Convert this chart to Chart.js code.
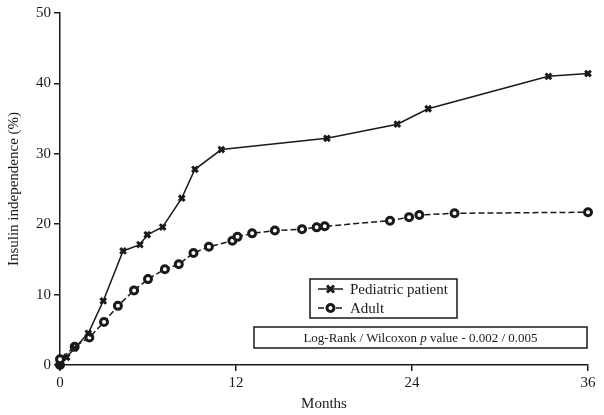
<!DOCTYPE html>
<html>
<head>
<meta charset="utf-8">
<script src="https://cdn.jsdelivr.net/npm/chart.js@4/dist/chart.umd.min.js"></script>
<style>
  html, body { margin: 0; padding: 0; background: #fff; }
  #wrap { width: 604px; height: 415px; }
</style>
</head>
<body>
<div id="wrap"><canvas id="chart" width="604" height="415"></canvas></div>
<script>
// insulin independence curves
const pedMonths = [0, 0.45, 1.0, 1.93, 2.95, 4.3, 5.45, 5.95, 7.0, 8.3, 9.2, 11.0, 18.2, 23.0, 25.1, 33.3, 36];
const pedValues = [0, 1.1, 2.4, 4.5, 9.1, 16.2, 17.1, 18.5, 19.6, 23.7, 27.8, 30.6, 32.2, 34.2, 36.4, 41.0, 41.4];

const adultMonths = [0, 0, 1.0, 2.0, 3.0, 3.95, 5.05, 6.0, 7.15, 8.1, 9.1, 10.15, 11.75, 12.1, 13.1, 14.65, 16.5, 17.5, 18.05, 22.5, 23.8, 24.5, 26.9, 36];
const adultValues = [0, 0.8, 2.6, 3.9, 6.1, 8.4, 10.6, 12.2, 13.6, 14.3, 15.9, 16.8, 17.65, 18.2, 18.7, 19.1, 19.3, 19.55, 19.7, 20.5, 21.0, 21.3, 21.55, 21.7];

const seriesLabels = ["Pediatric patient", "Adult"];
const statText = ["Log-Rank / Wilcoxon ", "p", " value - 0.002 / 0.005"];

const INK = "#1a1a1a";
const SERIF = "'Liberation Serif', 'Times New Roman', serif";

function toPoints(xs, ys) {
  return xs.map((x, i) => ({ x: x, y: ys[i] }));
}

// legend box + p-value box inside the plot
const boxesPlugin = {
  id: "boxes",
  afterDatasetsDraw(chart) {
    const ctx = chart.ctx;
    ctx.save();
    ctx.strokeStyle = INK;
    ctx.lineWidth = 1.5;
    ctx.fillStyle = "#fff";

    // legend
    ctx.fillRect(310, 279, 147, 39);
    ctx.strokeRect(310, 279, 147, 39);

    const rows = [289, 308];
    ctx.font = "15px " + SERIF;
    ctx.textBaseline = "middle";
    rows.forEach((y, i) => {
      ctx.strokeStyle = INK;
      ctx.lineWidth = 1.5;
      ctx.setLineDash(i === 1 ? [6, 3] : []);
      ctx.beginPath();
      ctx.moveTo(318, y);
      ctx.lineTo(343, y);
      ctx.stroke();
      ctx.setLineDash([]);
      ctx.lineWidth = 3;
      if (i === 0) {
        ctx.beginPath();
        ctx.moveTo(327, y - 3.5); ctx.lineTo(334, y + 3.5);
        ctx.moveTo(334, y - 3.5); ctx.lineTo(327, y + 3.5);
        ctx.stroke();
      } else {
        ctx.fillStyle = "#fff";
        ctx.beginPath();
        ctx.arc(330.5, y, 3.5, 0, Math.PI * 2);
        ctx.fill();
        ctx.stroke();
      }
      ctx.fillStyle = INK;
      ctx.textAlign = "left";
      ctx.fillText(seriesLabels[i], 350, y + 1);
    });

    // p-value box
    ctx.lineWidth = 1.5;
    ctx.fillStyle = "#fff";
    ctx.fillRect(254, 327, 333, 21);
    ctx.strokeRect(254, 327, 333, 21);

    const fonts = ["13px " + SERIF, "italic 13px " + SERIF, "13px " + SERIF];
    let total = 0;
    statText.forEach((t, i) => { ctx.font = fonts[i]; total += ctx.measureText(t).width; });
    let x = 420.5 - total / 2;
    ctx.fillStyle = INK;
    ctx.textAlign = "left";
    statText.forEach((t, i) => {
      ctx.font = fonts[i];
      ctx.fillText(t, x, 338.5);
      x += ctx.measureText(t).width;
    });
    ctx.restore();
  }
};

new Chart(document.getElementById("chart"), {
  type: "line",
  data: {
    datasets: [
      {
        label: seriesLabels[0],
        data: toPoints(pedMonths, pedValues),
        borderColor: INK,
        borderWidth: 1.5,
        pointStyle: "crossRot",
        pointRadius: 4,
        pointBorderWidth: 3,
        pointBorderColor: INK,
        pointBackgroundColor: INK,
        tension: 0,
        clip: false,
      },
      {
        label: seriesLabels[1],
        data: toPoints(adultMonths, adultValues),
        borderColor: INK,
        borderWidth: 1.5,
        borderDash: [6, 3],
        pointStyle: "circle",
        pointRadius: 3.5,
        pointBorderWidth: 3,
        pointBorderColor: INK,
        pointBackgroundColor: "#fff",
        tension: 0,
        clip: false,
      },
    ],
  },
  options: {
    responsive: false,
    animation: false,
    layout: { padding: { top: 13, right: 16, bottom: 0, left: 0 } },
    plugins: {
      legend: { display: false },
      tooltip: { enabled: false },
    },
    scales: {
      x: {
        type: "linear",
        min: 0,
        max: 36,
        afterFit(scale) { scale.height = 50; },
        afterBuildTicks(scale) { scale.ticks = [0, 12, 24, 36].map((v) => ({ value: v })); },
        border: { display: true, color: INK, width: 1.5 },
        grid: { display: true, drawOnChartArea: false, drawTicks: true, tickLength: 6, color: INK, lineWidth: 1.5 },
        ticks: { color: INK, padding: 3, font: { family: SERIF, size: 15 }, maxRotation: 0 },
        title: { display: true, text: "Months", color: INK, font: { family: SERIF, size: 15 }, padding: { top: 0, bottom: 2 } },
      },
      y: {
        min: 0,
        max: 50,
        afterFit(scale) { scale.width = 60; },
        border: { display: true, color: INK, width: 1.5 },
        grid: { display: true, drawOnChartArea: false, drawTicks: true, tickLength: 6, color: INK, lineWidth: 1.5 },
        ticks: { stepSize: 10, color: INK, padding: 3, font: { family: SERIF, size: 15 } },
        title: { display: true, text: "Insulin independence (%)", color: INK, font: { family: SERIF, size: 15 }, padding: { top: 5, bottom: 0 } },
      },
    },
  },
  plugins: [boxesPlugin],
});
</script>
</body>
</html>
